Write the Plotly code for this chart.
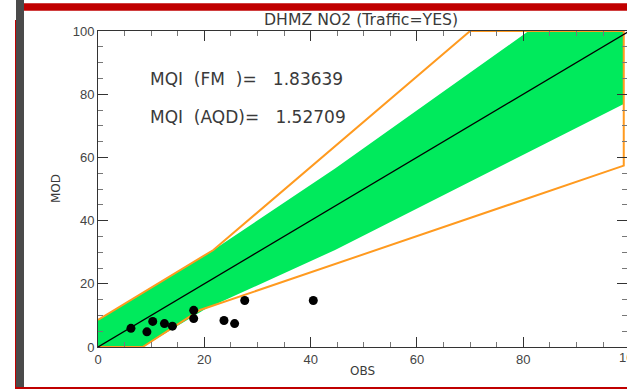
import plotly.graph_objects as go

# ---- data ----
obs = [6.2, 9.2, 10.3, 12.5, 14.0, 18.0, 18.0, 23.7, 25.7, 27.6, 40.5]
mod = [5.9, 4.8, 8.1, 7.4, 6.6, 11.6, 9.0, 8.4, 7.4, 14.7, 14.7]

green_obs = [0, 0, 21.7, 44.6, 81.0, 98.9, 98.9, 44.6, 20.2, 8.4]
green_mod = [0, 8.6, 30.7, 56.5, 100, 100, 76.9, 30.7, 12.0, 0]

orange_obs = [0, 21.7, 70.0, 98.9, 98.9, 19.2, 8.4, 0]
orange_mod = [8.6, 30.7, 100, 100, 57.4, 11.7, 0, 0]

diag_obs = [0, 100]
diag_mod = [0, 100]

tick_vals = [0, 20, 40, 60, 80, 100]
tick_text = ["0", "20", "40", "60", "80", "100"]

title_text = "DHMZ NO2 (Traffic=YES)"
mqi_fm = "MQI\u00a0\u00a0(FM\u00a0\u00a0)=\u00a0\u00a0\u00a01.83639"
mqi_aqd = "MQI\u00a0\u00a0(AQD)=\u00a0\u00a0\u00a01.52709"

# ---- layout geometry (pixels) ----
W, H = 627, 389
L, R, T, B = 98, 627, 31, 347
x_max = (R - L) / 5.316


def px(x):
    return (x - L) / (R - L)


def py(y):
    return (B - y) / (B - T)


fig = go.Figure()
fig.add_trace(go.Scatter(x=green_obs, y=green_mod, fill="toself", mode="lines",
                         line=dict(width=0), fillcolor="#00ea5c", hoverinfo="skip"))
fig.add_trace(go.Scatter(x=orange_obs, y=orange_mod, mode="lines",
                         line=dict(color="#ff9a1f", width=2), hoverinfo="skip"))
fig.add_trace(go.Scatter(x=diag_obs, y=diag_mod, mode="lines",
                         line=dict(color="black", width=1.3)))
fig.add_trace(go.Scatter(x=obs, y=mod, mode="markers",
                         marker=dict(color="black", size=9)))

axis_common = dict(
    showline=True, linecolor="#333", linewidth=1, mirror="ticks",
    ticks="inside", ticklen=10, tickcolor="#333", tickwidth=1,
    showgrid=False, zeroline=False,
    tickvals=tick_vals, ticktext=tick_text,
    tickfont=dict(family="Liberation Sans", size=13, color="#444"),
    minor=dict(dtick=5, tick0=0, ticks="inside", ticklen=5, tickcolor="#777",
               showgrid=False),
)

fig.update_layout(
    width=W, height=H,
    margin=dict(l=L, r=W - R, t=T, b=H - B, pad=0),
    paper_bgcolor="white", plot_bgcolor="white",
    showlegend=False,
    xaxis=dict(range=[0, x_max], **axis_common),
    yaxis=dict(range=[0, 100], **axis_common),
)

ann_font = dict(family="DejaVu Sans", color="#3a3a3a")
annotations = [
    dict(text=title_text, x=px(361), y=py(19), font=dict(size=15.7, **ann_font)),
    dict(text=mqi_fm, x=px(148), y=py(79), xanchor="left", font=dict(size=17, **ann_font)),
    dict(text=mqi_aqd, x=px(148), y=py(117), xanchor="left", font=dict(size=17, **ann_font)),
    dict(text="OBS", x=px(362), y=py(371), font=dict(size=12, **ann_font)),
    dict(text="MOD", x=px(56), y=py(189), textangle=-90, font=dict(size=12, **ann_font)),
    dict(text="100", x=px(629.6), y=py(357),
         font=dict(family="Liberation Sans", size=13, color="#444")),
]
for a in annotations:
    a.setdefault("xanchor", "center")
    a.update(xref="paper", yref="paper", yanchor="middle", showarrow=False)
fig.update_layout(annotations=annotations)

shapes = [
    # grey frame bar at left
    dict(x0=px(16), x1=px(24), y0=py(0), y1=py(389), fillcolor="#4a4a4a"),
    # thin red line at left
    dict(x0=px(15), x1=px(16), y0=py(20), y1=py(389), fillcolor="#c00000"),
    # red bar at top
    dict(x0=px(24), x1=px(627), y0=py(3.3), y1=py(10.7), fillcolor="#c00000"),
    # red line at bottom
    dict(x0=px(15), x1=px(627), y0=py(387), y1=py(389), fillcolor="#c00000"),
]
for s in shapes:
    s.update(type="rect", xref="paper", yref="paper", line=dict(width=0), layer="above")
fig.update_layout(shapes=shapes)

fig.write_html("out.html")
